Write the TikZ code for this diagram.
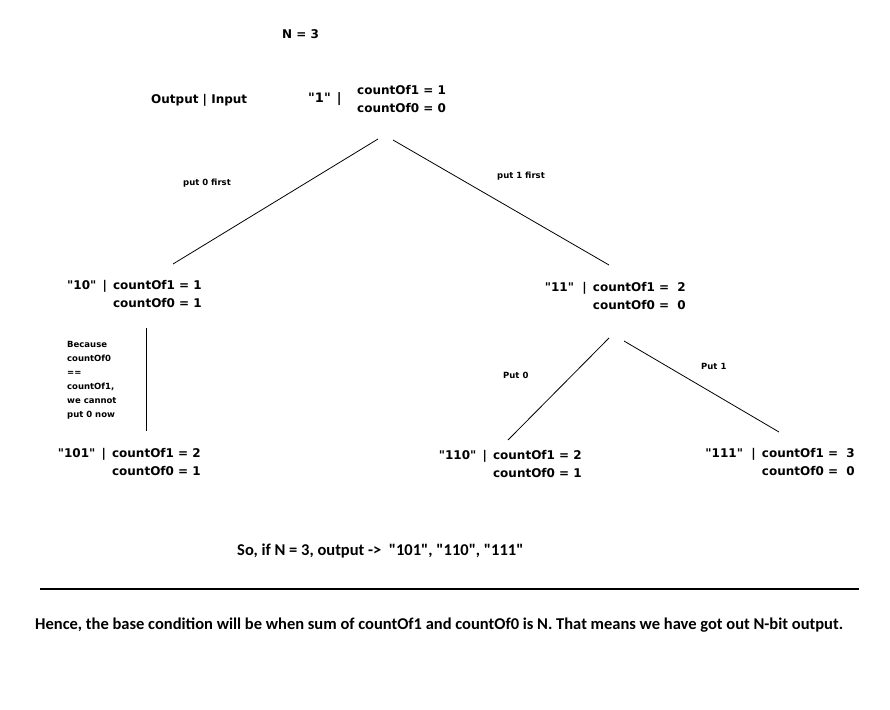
\documentclass[tikz,border=0pt]{standalone}
\usepackage{fontspec}
\newfontfamily\tahomafont{DejaVu Sans}
\newfontfamily\calibrifont{Carlito}
\usetikzlibrary{calc}

\tikzset{
  big/.style={font=\tahomafont\bfseries\fontsize{12}{18}\selectfont, inner sep=0pt},
  small/.style={font=\tahomafont\bfseries\fontsize{8.5}{14}\selectfont, inner sep=0pt, anchor=base west},
  stbox/.style={big, anchor=base east},
  branch/.style={line width=0.8pt},
  footer/.style={font=\calibrifont\bfseries\fontsize{16.5}{20}\selectfont, inner sep=0pt, anchor=base west}
}

\begin{document}
\begin{tikzpicture}[x=1pt, y=-1pt]
            \useasboundingbox (0,0) rectangle (890,709);

                        % En-tête et racine
                        \node[big, anchor=base west] (ntop) at (282,38) {N = 3};
                        \node[big, anchor=base west] (legend) at (151,103) {Output | Input};
                        \node[big, font=\tahomafont\bfseries\fontsize{13}{16}\selectfont, anchor=base west] (out1) at (308,102) {"1"\hskip 6pt|};
                        \node[big, anchor=base west] (cnt1) at (357,94) {\begin{tabular}[t]{@{}l@{}}countOf1 = 1\\countOf0 = 0\end{tabular}};

                        % États de l'arbre
                        \node[stbox] (s10) at (202,289) {\begin{tabular}[t]{@{}r@{}}"10" \,|\, countOf1 = 1\\countOf0 = 1\end{tabular}};
                        \node[stbox] (s11) at (686,291) {\begin{tabular}[t]{@{}r@{}}"11"~~|\, countOf1 =~~2\\countOf0 =~~0\end{tabular}};
                        \node[stbox] (s101) at (201,457) {\begin{tabular}[t]{@{}r@{}}"101" \,|\, countOf1 = 2\\countOf0 = 1\end{tabular}};
                        \node[stbox] (s110) at (582,459) {\begin{tabular}[t]{@{}r@{}}"110" \,|\, countOf1 = 2\\countOf0 =~1\end{tabular}};
                        \node[stbox] (s111) at (855,457) {\begin{tabular}[t]{@{}r@{}}"111"~~|\, countOf1 =~~3\\countOf0 =~~0\end{tabular}};

                        % Étiquettes des branches
                        \node[small] (lp0) at (183,185) {put 0 first};
                        \node[small] (lp1) at (497,178) {put 1 first};
                        \node[small] (lq0) at (503,378) {Put 0};
                        \node[small] (lq1) at (701,369) {Put 1};
                        \node[small] (note) at (67,347) {\begin{tabular}[t]{@{}l@{}}Because\\countOf0\\==\\countOf1,\\we cannot\\put 0 now\end{tabular}};

                        % Branches
                        \draw[branch] ($(cnt1.base west)+(21,45)$) -- ($(s10.base east)+(-29,-25)$);
                        \draw[branch] ($(cnt1.base west)+(36,46)$) -- ($(s11.base east)+(-77,-26)$);
                        \draw[branch] ($(s10.base east)+(-56,39)$) -- ($(s101.base east)+(-55,-26)$);
                        \draw[branch] ($(s11.base east)+(-77,47)$) -- ($(s110.base east)+(-74,-19)$);
                        \draw[branch] ($(s11.base east)+(-62,50)$) -- ($(s111.base east)+(-76,-25)$);

                        % Conclusion
                        \node[footer] (result) at (237,555) {So, if N = 3, output ->~~"101", "110", "111"};
                        \draw[line width=1.2pt] (40,589) -- (859,589);
                        \node[footer] (hence) at (35,629) {Hence, the base condition will be when sum of countOf1 and countOf0 is N. That means we have got out N-bit output.};

                    \end{tikzpicture}
\end{document}
